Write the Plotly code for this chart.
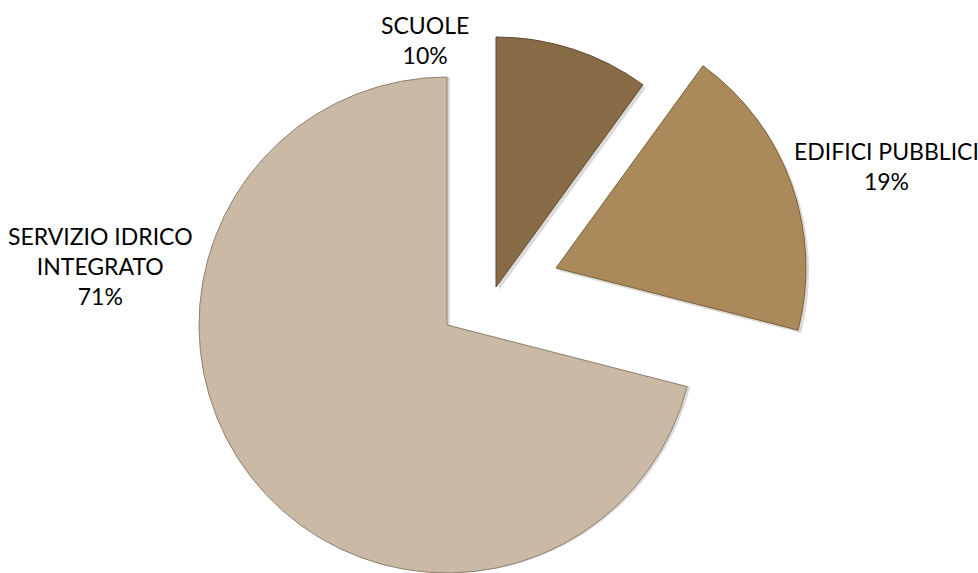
import plotly.graph_objects as go

# ---- data ----
categories = ["SCUOLE", "EDIFICI PUBBLICI", "SERVIZIO IDRICO INTEGRATO"]
values = [10, 19, 71]
label_lines = ["SCUOLE", "EDIFICI PUBBLICI", "SERVIZIO IDRICO<br>INTEGRATO"]

# ---- style ----
W, H = 978, 573
colors = ["#866B46", "#AA8A5B", "#C9B9A5"]
edge_colors = ["#5E4A2E", "#7A6138", "#8F8170"]
# slice centre (pixel) and radius: emulates the exploded pie
centers = [(496, 287), (556, 268), (447, 325)]
radii = [250, 250, 248]
label_pos = [(425, 40), (886, 166), (100, 266)]

fig = go.Figure()


def domain_for(cx, cy, r):
    x0 = max(0.0, (cx - r) / W)
    x1 = min(1.0, (cx + r) / W)
    y0 = max(0.0, (H - cy - r) / H)
    y1 = min(1.0, (H - cy + r) / H)
    return dict(x=[x0, x1], y=[y0, y1])


# soft shadows
for i in range(len(categories)):
    cx, cy = centers[i]
    r = radii[i]
    cols = ["rgba(0,0,0,0)"] * len(categories)
    cols[i] = "rgba(60,50,40,0.18)"
    fig.add_trace(go.Pie(
        labels=categories, values=values, sort=False, direction="clockwise",
        rotation=0, textinfo="none", hoverinfo="skip", showlegend=False,
        marker=dict(colors=cols, line=dict(width=0)),
        domain=domain_for(cx + 3, min(cy + 3, H - r), r),
    ))

for i in range(len(categories)):
    cx, cy = centers[i]
    r = radii[i]
    cols = ["rgba(0,0,0,0)"] * len(categories)
    cols[i] = colors[i]
    lcols = ["rgba(0,0,0,0)"] * len(categories)
    lcols[i] = edge_colors[i]
    lw = [0] * len(categories)
    lw[i] = 1
    fig.add_trace(go.Pie(
        labels=categories, values=values, sort=False, direction="clockwise",
        rotation=0, textinfo="none", showlegend=False,
        hovertemplate="%{label}: %{percent}<extra></extra>",
        marker=dict(colors=cols, line=dict(color=lcols, width=lw)),
        domain=domain_for(cx, cy, r),
    ))

total = sum(values)
for i in range(len(categories)):
    x, y = label_pos[i]
    pct = round(values[i] / total * 100)
    fig.add_annotation(
        x=x / W, y=1 - y / H, xref="paper", yref="paper",
        text=f"{label_lines[i]}<br>{pct}%", showarrow=False,
        xanchor="center", yanchor="middle", align="center",
        font=dict(family="Lato", size=23, color="#000000"),
    )

fig.update_layout(
    width=W, height=H, margin=dict(l=0, r=0, t=0, b=0),
    paper_bgcolor="white", plot_bgcolor="white",
)

fig.write_html("out.html")
